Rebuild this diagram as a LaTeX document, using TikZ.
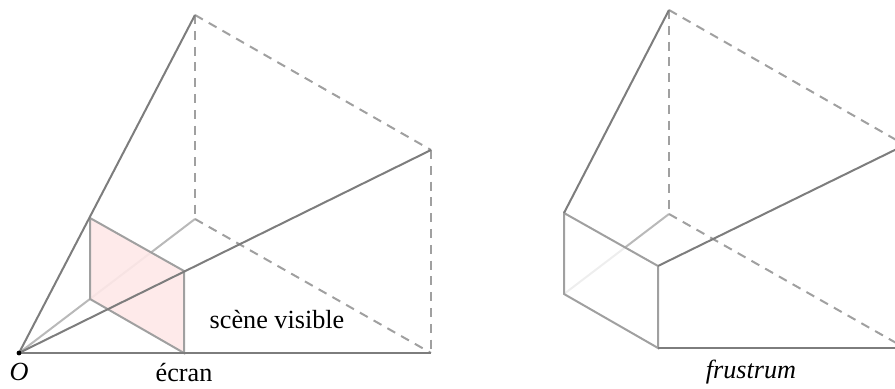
\documentclass[tikz,border=0pt]{standalone}
\usepackage{fontspec}
\setmainfont{Liberation Serif}
\usetikzlibrary{calc}
\definecolor{edgedark}{RGB}{125,125,125}
\definecolor{edgemid}{RGB}{160,160,160}
\definecolor{edgeback}{RGB}{185,185,185}
\definecolor{edgefaint}{RGB}{238,238,238}
\definecolor{ecranrose}{RGB}{254,232,232}
\tikzset{
  visible/.style={edgedark,line width=1pt},
  ecranbord/.style={edgemid,line width=1pt},
  fond/.style={edgeback,line width=1pt},
  cache/.style={edgemid,line width=1pt,dash pattern=on 4.5pt off 3.4pt},
  etiquette/.style={inner sep=0pt,font=\fontsize{13.1}{15}\selectfont}
}

\begin{document}
\begin{tikzpicture}[x=0.5pt,y=0.5pt]

    \clip (0,0) rectangle (895,389);

    % parametres
    \def\dx{474}
    \def\dy{5}

    % sommets, scene de gauche
    \coordinate (O) at (19,36);
    \coordinate (haut) at (195,374);
    \coordinate (droite) at (431,239);
    \coordinate (fondbas) at (195,170);
    \coordinate (droitebas) at (431,36);
    \coordinate (ea) at (90,171);
    \coordinate (eb) at (90,90);
    \coordinate (ec) at (184,118);
    \coordinate (ed) at (184,36);

    % sommets, scene de droite
    \coordinate (fhaut) at ($(haut)+(\dx,\dy)$);
    \coordinate (fdroite) at ($(droite)+(\dx,\dy)$);
    \coordinate (ffondbas) at ($(fondbas)+(\dx,\dy)$);
    \coordinate (fdroitebas) at ($(droitebas)+(\dx,\dy)$);
    \coordinate (fa) at ($(ea)+(\dx,\dy)$);
    \coordinate (fb) at ($(eb)+(\dx,\dy)$);
    \coordinate (fc) at ($(ec)+(\dx,\dy)$);
    \coordinate (fd) at ($(ed)+(\dx,\dy)$);
    \coordinate (fx) at (intersection of fb--ffondbas and fa--fc);

    % aretes cachees
    \draw[fond] (O) -- (fondbas);
    \draw[cache] (haut) -- (fondbas);
    \draw[cache] (haut) -- (droite);
    \draw[cache] (fondbas) -- (droitebas);
    \draw[cache] (droite) -- (droitebas);

    % ecran
    \fill[ecranrose,opacity=0.9] (ea) -- (ec) -- (ed) -- (eb) -- cycle;
    \draw[ecranbord] (ea) -- (ec) -- (ed) -- (eb) -- cycle;

    % aretes visibles
    \draw[visible] (O) -- (haut);
    \draw[visible] (O) -- (droite);
    \draw[visible] (O) -- (droitebas);
    \fill (O) circle (2.4);

    % frustrum
    \draw[edgefaint,line width=1pt] (fb) -- (fx);
    \draw[fond] (fx) -- (ffondbas);
    \draw[cache] (fhaut) -- (ffondbas);
    \draw[cache] (fhaut) -- (fdroite);
    \draw[cache] (ffondbas) -- (fdroitebas);
    \draw[ecranbord] (fa) -- (fc) -- (fd) -- (fb) -- cycle;
    \draw[visible] (fa) -- (fhaut);
    \draw[visible] (fc) -- (fdroite);
    \draw[visible] (fd) -- (fdroitebas);

    % etiquettes
    \node[etiquette] (lblO) at (19,17) {\textit{O}};
    \node[etiquette] (lblecran) at (184,16) {écran};
    \node[etiquette] (lblscene) at (277,69) {scène visible};
    \node[etiquette] (lblfrustrum) at (751,17) {\textit{frustrum}};

\end{tikzpicture}
\end{document}
